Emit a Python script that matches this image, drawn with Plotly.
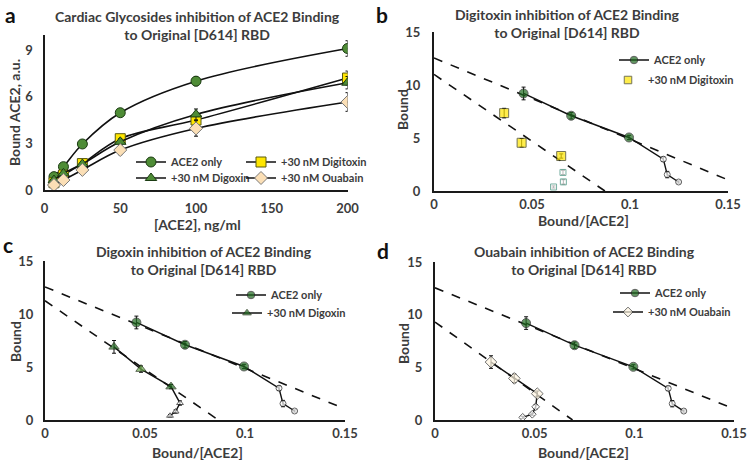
import plotly.graph_objects as go

# ---------------- data ----------------
conc = [6.25, 12.5, 25, 50, 100, 200]
a_ace2 = [0.86, 1.5, 2.96, 4.97, 7.0, 9.1]
a_ace2_err = [0.1, 0.1, 0.12, 0.15, 0.3, 0.5]
a_digitoxin = [0.47, 0.96, 1.7, 3.3, 4.5, 7.2]
a_digitoxin_err = [0.1, 0.1, 0.1, 0.2, 0.3, 0.45]
a_digoxin = [0.64, 1.07, 1.67, 3.1, 4.86, 6.9]
a_digoxin_err = [0.1, 0.1, 0.1, 0.2, 0.35, 0.4]
a_ouabain = [0.32, 0.64, 1.29, 2.57, 3.96, 5.66]
a_ouabain_err = [0.1, 0.1, 0.1, 0.3, 0.5, 0.6]

# Scatchard (Bound vs Bound/[ACE2])
s_ace2_x = [0.0457, 0.070, 0.0995, 0.117, 0.119, 0.1248]
s_ace2_y = [9.2, 7.1, 5.05, 3.0, 1.55, 0.85]
s_ace2_err = [0.6, 0.3, 0.2, 0.2, 0.3, 0.1]
fit_ace2_x = [0.0, 0.15]
fit_ace2_y = [12.55, 1.05]

b_dtx_x = [0.0358, 0.0447, 0.0649, 0.0658, 0.066, 0.061]
b_dtx_y = [7.35, 4.55, 3.3, 1.75, 0.86, 0.38]
b_dtx_err = [0.45, 0.4, 0.2, 0.2, 0.2, 0.1]
fit_dtx_x = [0.0, 0.0872]
fit_dtx_y = [11.0, 0.0]

c_dgx_x = [0.0345, 0.048, 0.063, 0.0675, 0.0653, 0.0625]
c_dgx_y = [6.9, 4.8, 3.15, 1.6, 0.8, 0.4]
c_dgx_err = [0.6, 0.3, 0.2, 0.2, 0.15, 0.1]
fit_dgx_x = [0.0, 0.0867]
fit_dgx_y = [11.25, 0.0]

d_oua_x = [0.0281, 0.0398, 0.0513, 0.0505, 0.0488, 0.044]
d_oua_y = [5.5, 3.95, 2.5, 1.25, 0.55, 0.25]
d_oua_err = [0.6, 0.4, 0.25, 0.2, 0.1, 0.1]
fit_oua_x = [0.0, 0.069]
fit_oua_y = [9.3, 0.0]

titles = [
    "Cardiac Glycosides inhibition of ACE2 Binding<br>to Original [D614] RBD",
    "Digitoxin inhibition of ACE2 Binding<br>to Original [D614] RBD",
    "Digoxin inhibition of ACE2 Binding<br>to Original [D614] RBD",
    "Ouabain inhibition of ACE2 Binding<br>to Original [D614] RBD",
]
panel_letters = ["a", "b", "c", "d"]
x_titles = ["[ACE2], ng/ml", "Bound/[ACE2]", "Bound/[ACE2]", "Bound/[ACE2]"]
y_titles = ["Bound ACE2, a.u.", "Bound", "Bound", "Bound"]

# ---------------- style ----------------
FONT = "Lato"
TXT = "#3c3c3c"
W, H = 749, 464
GREEN_A = "#4e8c36"
GREEN_D = "#1f6a1f"
YELLOW = "#ffe600"
PEACH = "#fbdfb6"
CREAM = "#fff6e2"

fig = go.Figure()


def err(vals):
    return dict(type="data", array=vals, visible=True, color="#111", thickness=1, width=2)


def px2x(px):
    return px / W


def px2y(py):
    return 1 - py / H


# ---- panel a ----
a_series = [
    ("ACE2 only", a_ace2, a_ace2_err, "circle", GREEN_A, "#1b3b12", "legend"),
    ("+30 nM Digitoxin", a_digitoxin, a_digitoxin_err, "square", YELLOW, "#5a5a10", "legend2"),
    ("+30 nM Digoxin", a_digoxin, a_digoxin_err, "triangle-up", GREEN_A, "#1b3b12", "legend3"),
    ("+30 nM Ouabain", a_ouabain, a_ouabain_err, "diamond", PEACH, "#7a7a7a", "legend4"),
]
for name, ys, es, sym, col, lcol, leg in a_series:
    fig.add_trace(go.Scatter(
        x=conc, y=ys, name=name, mode="lines+markers", error_y=err(es),
        line=dict(color="#111", width=1.6, shape="spline", smoothing=1.0),
        marker=dict(symbol=sym, size=10, color=col, line=dict(color=lcol, width=1)),
        xaxis="x", yaxis="y", legend=leg,
    ))


def scatchard_panel(xa, ya, leg_a, leg_b, inh_name, inh_x, inh_y, inh_err, inh_sym,
                    inh_fill, inh_line, inh_mode, fit_x, fit_y, low_line):
    for fx, fy in ((fit_ace2_x, fit_ace2_y), (fit_x, fit_y)):
        fig.add_trace(go.Scatter(
            x=fx, y=fy, mode="lines", showlegend=False, hoverinfo="skip",
            line=dict(color="#111", width=1.6, dash="dash"), xaxis=xa, yaxis=ya))
    fig.add_trace(go.Scatter(
        x=s_ace2_x, y=s_ace2_y, name="ACE2 only", mode="lines+markers",
        error_y=err(s_ace2_err),
        line=dict(color="#111", width=1.4),
        marker=dict(symbol="circle", size=[9, 9, 9, 6, 6, 6],
                    color=[GREEN_D, GREEN_D, GREEN_D, "white", "white", "white"],
                    line=dict(color="#222", width=1)),
        xaxis=xa, yaxis=ya, legend=leg_a))
    fig.add_trace(go.Scatter(
        x=inh_x, y=inh_y, name=inh_name, mode=inh_mode,
        error_y=err(inh_err),
        line=dict(color="#111", width=1.4),
        marker=dict(symbol=inh_sym, size=[9, 9, 9, 6, 6, 6],
                    color=inh_fill + ["white", "white", "white"],
                    line=dict(color=[inh_line] * 3 + [low_line] * 3, width=1)),
        xaxis=xa, yaxis=ya, legend=leg_b))


scatchard_panel("x2", "y2", "legend5", "legend6", "+30 nM Digitoxin", b_dtx_x, b_dtx_y,
                b_dtx_err, "square", [YELLOW] * 3, "#3a3a10", "markers",
                fit_dtx_x, fit_dtx_y, "#3f8f7a")
scatchard_panel("x3", "y3", "legend7", "legend8", "+30 nM Digoxin", c_dgx_x, c_dgx_y,
                c_dgx_err, "triangle-up", [GREEN_D, "#6fae4f", GREEN_D], "#1a2a10",
                "lines+markers", fit_dgx_x, fit_dgx_y, "#222")
scatchard_panel("x4", "y4", "legend9", "legend10", "+30 nM Ouabain", d_oua_x, d_oua_y,
                d_oua_err, "diamond", [CREAM] * 3, "#333", "lines+markers",
                fit_oua_x, fit_oua_y, "#222")

# ---------------- axes ----------------
tickfont = dict(family=FONT, size=13, color=TXT, weight="bold")
titlefont = dict(family=FONT, size=14, color=TXT, weight="bold")


def xaxis(domain, rng, tickvals, ticktext, anchor, standoff):
    return dict(domain=domain, range=rng, tickvals=tickvals, ticktext=ticktext,
                showline=True, linecolor="#1a1a1a", linewidth=2, showgrid=False,
                zeroline=False, ticks="", tickfont=tickfont, ticklabelstandoff=standoff,
                automargin=False, anchor=anchor)


def yaxis(domain, rng, tickvals, anchor, standoff):
    return dict(domain=domain, range=rng, tickvals=tickvals,
                showline=True, linecolor="#1a1a1a", linewidth=2, showgrid=False,
                zeroline=False, ticks="", tickfont=tickfont, ticklabelstandoff=standoff,
                automargin=False, anchor=anchor)


sx = [0, 0.05, 0.1, 0.15]
st = ["0", "0.05", "0.1", "0.15"]
fig.update_layout(
    xaxis=xaxis([px2x(44.5), px2x(347.5)], [0, 200], [0, 50, 100, 150, 200],
                ["0", "50", "100", "150", "200"], "y", 5),
    yaxis=yaxis([px2y(190), px2y(34.5)], [0, 10], [0, 3, 6, 9], "x", 7),
    xaxis2=xaxis([px2x(434), px2x(728)], [0, 0.15], sx, st, "y2", 0),
    yaxis2=yaxis([px2y(191), px2y(32)], [0, 15], [0, 5, 10, 15], "x2", 9),
    xaxis3=xaxis([px2x(45), px2x(345)], [0, 0.15], sx, st, "y3", 0),
    yaxis3=yaxis([px2y(420), px2y(261)], [0, 15], [0, 5, 10, 15], "x3", 7),
    xaxis4=xaxis([px2x(435), px2x(734)], [0, 0.15], sx, st, "y4", 0),
    yaxis4=yaxis([px2y(420), px2y(262)], [0, 15], [0, 5, 10, 15], "x4", 8),
)

# ---------------- legends ----------------
legfont = dict(family=FONT, size=11, color=TXT, weight="bold")
leg_pos = {
    "legend": (176, 162), "legend2": (286, 162), "legend3": (176, 178), "legend4": (286, 178),
    "legend5": (659, 60), "legend6": (653, 80),
    "legend7": (276, 295), "legend8": (272, 313),
    "legend9": (660, 293), "legend10": (653, 312),
}
for key, (tx, ty) in leg_pos.items():
    fig.update_layout({key: dict(x=px2x(tx - 45), y=px2y(ty), xanchor="left", yanchor="middle",
                                 bgcolor="rgba(0,0,0,0)", font=legfont, itemwidth=30,
                                 tracegroupgap=0)})

# ---------------- titles, axis titles & letters ----------------
title_pos = [(197, 25), (567, 24), (204, 260), (584, 260)]
for t, (cx, cy) in zip(titles, title_pos):
    fig.add_annotation(text=t, x=px2x(cx), y=px2y(cy), xref="paper", yref="paper",
                       showarrow=False, xanchor="center", yanchor="middle",
                       font=dict(family=FONT, size=14, color=TXT, weight="bold"))

xt_pos = [(197, 224), (583, 221), (197, 452), (583, 452)]
for t, (cx, cy) in zip(x_titles, xt_pos):
    fig.add_annotation(text=t, x=px2x(cx), y=px2y(cy), xref="paper", yref="paper",
                       showarrow=False, xanchor="center", yanchor="middle",
                       font=titlefont)
yt_pos = [(15, 113), (403, 110), (15, 342), (403, 344)]
for t, (cx, cy) in zip(y_titles, yt_pos):
    fig.add_annotation(text=t, x=px2x(cx), y=px2y(cy), xref="paper", yref="paper",
                       showarrow=False, xanchor="center", yanchor="middle", textangle=-90,
                       font=titlefont)

# panel letters: box top given in pixels
letter_pos = [(10, 0), (382, 0), (8, 230), (383, 236)]
for L, (lx, ltop) in zip(panel_letters, letter_pos):
    fig.add_annotation(text=L, x=px2x(lx), y=px2y(ltop), xref="paper", yref="paper",
                       showarrow=False, xanchor="center", yanchor="top",
                       font=dict(family=FONT, size=21, color="#111", weight="bold"))

fig.update_layout(width=W, height=H, margin=dict(l=0, r=0, t=0, b=0),
                  paper_bgcolor="white", plot_bgcolor="white")

# remove the default page margin so the 749x464 figure fills the window exactly
fig.write_html("out.html", config={"displayModeBar": False},
               post_script="document.body.style.margin='0';")
